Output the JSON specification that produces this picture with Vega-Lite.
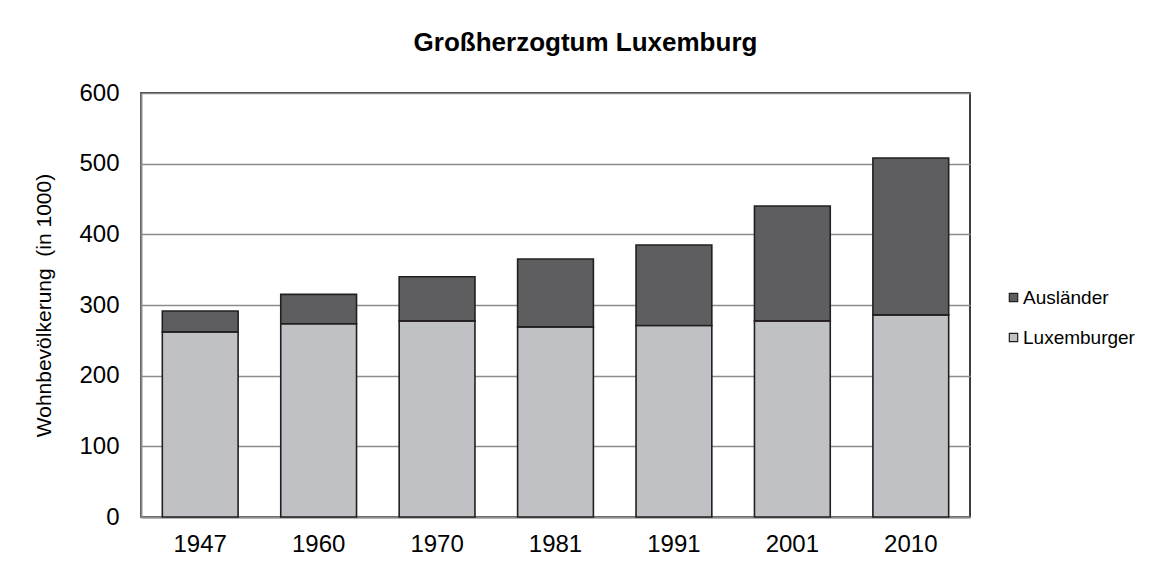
{
  "$schema": "https://vega.github.io/schema/vega-lite/v6.json",
  "autosize": {"type": "none"},
  "width": 829,
  "height": 424,
  "padding": {"left": 141, "top": 93, "right": 184, "bottom": 55},
  "background": "white",
  "title": {
    "text": "Großherzogtum Luxemburg",
    "font": "Liberation Sans",
    "fontSize": 26,
    "fontWeight": "bold",
    "color": "#000000",
    "anchor": "middle",
    "dx": 30,
    "offset": 25
  },
  "data": {
    "values": [
      {"jahr": "1947", "gruppe": "Luxemburger", "wert": 262},
      {"jahr": "1947", "gruppe": "Ausländer", "wert": 29.5},
      {"jahr": "1960", "gruppe": "Luxemburger", "wert": 273.5},
      {"jahr": "1960", "gruppe": "Ausländer", "wert": 41.5},
      {"jahr": "1970", "gruppe": "Luxemburger", "wert": 277.5},
      {"jahr": "1970", "gruppe": "Ausländer", "wert": 62.5},
      {"jahr": "1981", "gruppe": "Luxemburger", "wert": 269},
      {"jahr": "1981", "gruppe": "Ausländer", "wert": 96},
      {"jahr": "1991", "gruppe": "Luxemburger", "wert": 271},
      {"jahr": "1991", "gruppe": "Ausländer", "wert": 114},
      {"jahr": "2001", "gruppe": "Luxemburger", "wert": 277.5},
      {"jahr": "2001", "gruppe": "Ausländer", "wert": 162.5},
      {"jahr": "2010", "gruppe": "Luxemburger", "wert": 286},
      {"jahr": "2010", "gruppe": "Ausländer", "wert": 222}
    ]
  },
  "mark": {"type": "bar", "stroke": "#231F20", "strokeWidth": 1.6},
  "encoding": {
    "x": {
      "field": "jahr",
      "type": "nominal",
      "scale": {"paddingInner": 0.36, "paddingOuter": 0.18},
      "axis": {
        "title": null,
        "labelAngle": 0,
        "labelFont": "Liberation Sans",
        "labelFontSize": 24,
        "labelColor": "#000000",
        "labelPadding": 15,
        "ticks": false,
        "domainColor": "#8C8C8C",
        "domainWidth": 2
      }
    },
    "y": {
      "field": "wert",
      "type": "quantitative",
      "stack": "zero",
      "scale": {"domain": [0, 600]},
      "axis": {
        "title": "Wohnbevölkerung \u00a0(in 1000)",
        "titleFont": "Liberation Sans",
        "titleFontSize": 21,
        "titleFontWeight": "normal",
        "titleColor": "#000000",
        "titlePadding": 24,
        "values": [0, 100, 200, 300, 400, 500, 600],
        "labelFont": "Liberation Sans",
        "labelFontSize": 24,
        "labelColor": "#000000",
        "labelPadding": 22,
        "ticks": false,
        "domainColor": "#8C8C8C",
        "domainWidth": 2,
        "grid": true,
        "gridColor": "#8C8C8C",
        "gridWidth": 1.5
      }
    },
    "color": {
      "field": "gruppe",
      "type": "nominal",
      "scale": {"domain": ["Ausländer", "Luxemburger"], "range": ["#5E5E60", "#C0C1C4"]},
      "legend": {
        "title": null,
        "orient": "none",
        "legendX": 863,
        "legendY": 195,
        "symbolType": "square",
        "symbolSize": 70,
        "symbolStrokeColor": "#231F20",
        "symbolStrokeWidth": 1.2,
        "symbolOpacity": 1,
        "labelFont": "Liberation Sans",
        "labelFontSize": 19,
        "labelColor": "#000000",
        "labelOffset": 0,
        "rowPadding": 20
      }
    },
    "order": {"field": "gruppe", "sort": "descending"}
  },
  "config": {
    "view": {"stroke": "#000000", "strokeWidth": 1.5}
  }
}
